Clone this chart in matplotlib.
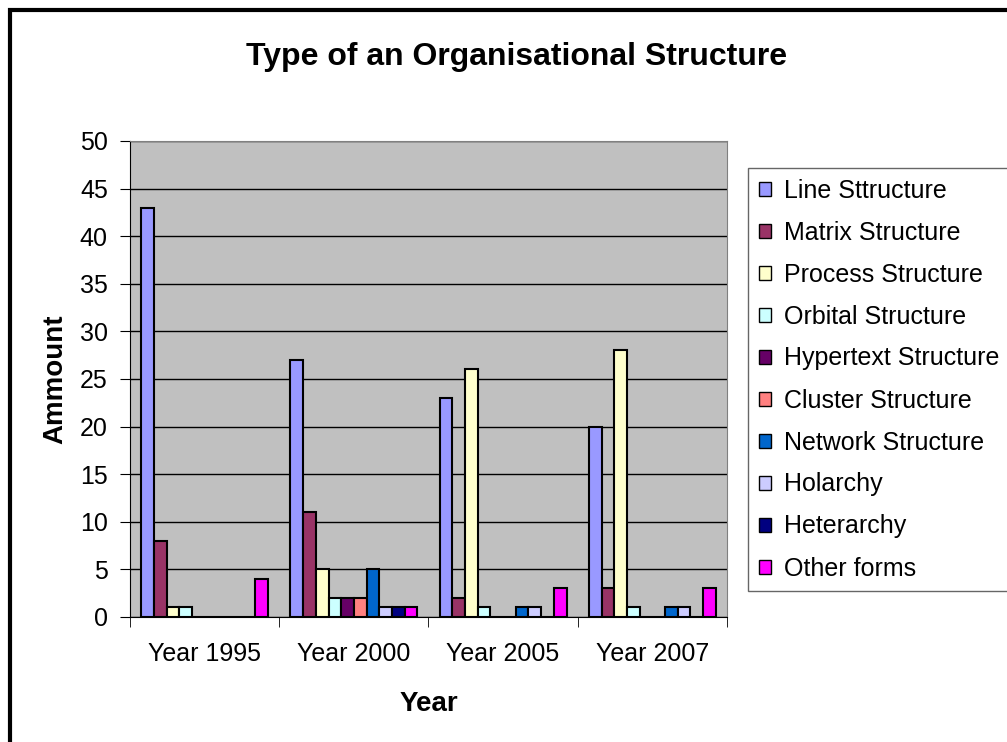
import matplotlib
matplotlib.use('Agg')
from matplotlib import pyplot as plt
from matplotlib.patches import Patch, Rectangle
import numpy as np

plt.rcParams['font.family'] = ['Liberation Sans', 'DejaVu Sans']

years = ['Year 1995', 'Year 2000', 'Year 2005', 'Year 2007']
series = ['Line Sttructure', 'Matrix Structure', 'Process Structure',
          'Orbital Structure', 'Hypertext Structure', 'Cluster Structure',
          'Network Structure', 'Holarchy', 'Heterarchy', 'Other forms']
colors = ['#9999FF', '#993366', '#FFFFCC', '#CCFFFF', '#660066',
          '#FF8080', '#0066CC', '#CCCCFF', '#000080', '#FF00FF']

# one row per series, one value per year
line_s = [43, 27, 23, 20]
matrix_s = [8, 11, 2, 3]
process_s = [1, 5, 26, 28]
orbital_s = [1, 2, 1, 1]
hypertext_s = [0, 2, 0, 0]
cluster_s = [0, 2, 0, 0]
network_s = [0, 5, 1, 1]
holarchy = [0, 1, 1, 1]
heterarchy = [0, 1, 0, 0]
other_forms = [4, 1, 3, 3]
values = [line_s, matrix_s, process_s, orbital_s, hypertext_s,
          cluster_s, network_s, holarchy, heterarchy, other_forms]

fig = plt.figure(figsize=(10.07, 7.42), dpi=100)
ax = fig.add_axes([130 / 1007, 1 - 617 / 742, 597 / 1007, 476 / 742])
ax.set_facecolor('#C0C0C0')

x = np.arange(len(years))
w = 0.085
for j, (vals, c) in enumerate(zip(values, colors)):
    ax.bar(x + (j - 4.5) * w, vals, w, color=c, edgecolor='black',
           linewidth=1.5, zorder=3)

ax.set_xlim(-0.5, 3.5)
ax.set_ylim(0, 50)
ax.set_yticks(range(0, 51, 5))
ax.yaxis.grid(True, color='black', linewidth=1, zorder=1)
ax.set_xticks(x)
ax.set_xticklabels(years, fontsize=18)
ax.tick_params(axis='x', length=0, pad=18)
ax.set_xticks(np.arange(-0.5, 4, 1), minor=True)
ax.tick_params(axis='x', which='minor', length=7, direction='out', color='black')
ax.tick_params(axis='y', length=7, direction='out', labelsize=18, pad=9)
for s in ['top', 'right']:
    ax.spines[s].set_color('#808080')
ax.spines['left'].set_color('black')
ax.spines['bottom'].set_color('black')

ax.set_ylabel('Ammount', fontsize=20, fontweight='bold', labelpad=8)
ax.set_xlabel('Year', fontsize=20, fontweight='bold', labelpad=18)
fig.text(517 / 1007, 1 - 57 / 742, 'Type of an Organisational Structure',
         ha='center', va='center', fontsize=23, fontweight='bold')

handles = [Patch(facecolor=c, edgecolor='black', linewidth=1) for c in colors]
leg = fig.legend(handles, series, loc='upper left',
                 bbox_to_anchor=(748 / 1007, 1 - 168 / 742),
                 fontsize=18, frameon=True, fancybox=False,
                 handlelength=0.5, handleheight=0.5, handletextpad=0.5,
                 labelspacing=0.72, borderpad=0.42, borderaxespad=0)
leg.get_frame().set_edgecolor('#404040')
leg.get_frame().set_linewidth(1)

fig.patches.append(Rectangle((10 / 1007, -0.1), 1.2, 1.1 - 10 / 742,
                             transform=fig.transFigure, fill=False,
                             edgecolor='black', linewidth=3, zorder=10))

fig.savefig('out.png', dpi=100)
